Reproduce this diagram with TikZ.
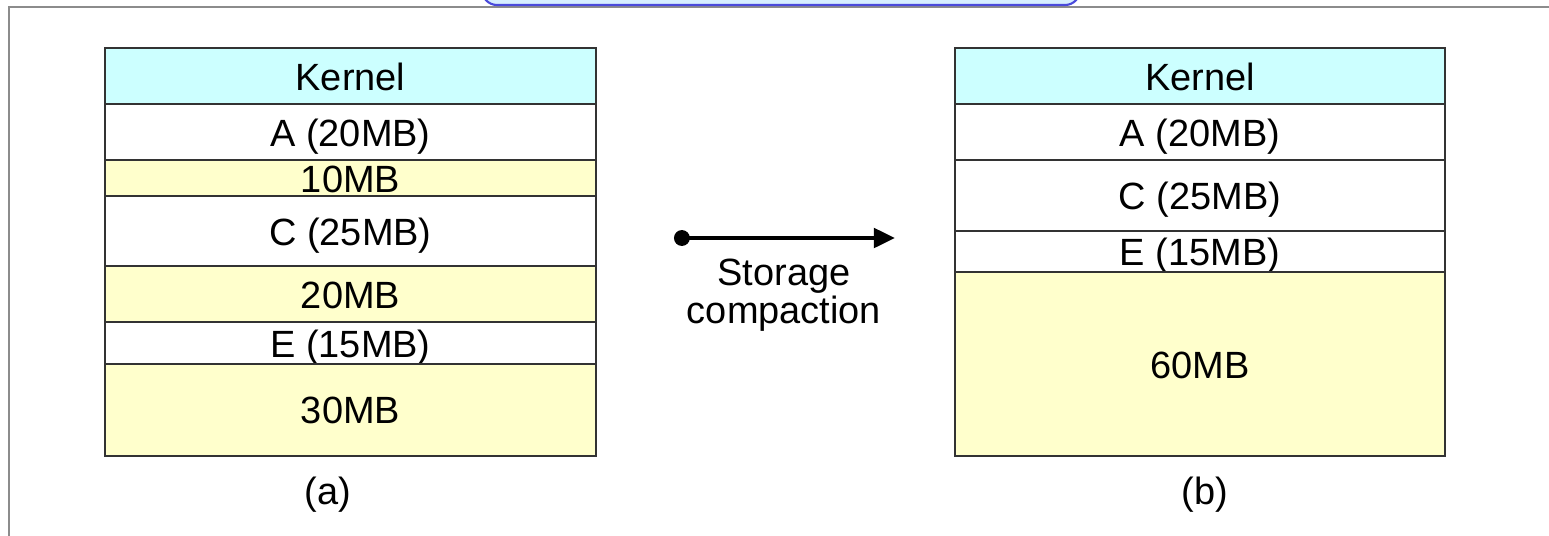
\documentclass[tikz,border=0pt]{standalone}
\usepackage{fontspec}
\setmainfont{Liberation Sans}
\usetikzlibrary{positioning,arrows.meta}

\definecolor{kernelcyan}{HTML}{CCFFFF}
\definecolor{holeyellow}{HTML}{FFFFCC}
\definecolor{titleblue}{HTML}{4A4ADB}
\definecolor{titlefill}{HTML}{D6EEFF}
\definecolor{framegray}{HTML}{8C8C8C}

\tikzset{
  cell/.style={draw=black!80, line width=1.1pt, fill=white, minimum width=9.82cm,
    inner sep=0pt, outer sep=0pt, text height=18.2pt, text depth=2.2pt,
    font=\fontsize{21.6}{21.6}\selectfont},
  kernelcell/.style={cell, fill=kernelcyan},
  holecell/.style={cell, fill=holeyellow},
  caption/.style={font=\fontsize{21.6}{21.6}\selectfont, align=center},
}

\begin{document}
\begin{tikzpicture}[x=0.02cm, y=-0.02cm, >=Triangle]
  % --- Storage compaction: memory map before (a) and after (b) ---
  \def\xa{350.5}\def\xb{1200}
  \def\ytop{48}

  % Page size and border of the slide
  \useasboundingbox (0,0) rectangle (1549,535);
  \clip (0,0) rectangle (1549,535);
  \draw[framegray, line width=1.2pt] (9,7) rectangle (1600,600);
  \draw[titleblue, fill=titlefill, line width=1.2pt, rounded corners=0.3cm]
    (482,-60) rectangle (1080,5);

  % (a) memory with holes
  \node[kernelcell, anchor=north, minimum height=1.12cm] (kerA) at (\xa,\ytop) {Kernel};
  \node[cell, minimum height=1.12cm, below=0pt of kerA] (procA) {A (20MB)};
  \node[holecell, minimum height=0.72cm, below=0pt of procA] (holeA) {10MB};
  \node[cell, minimum height=1.40cm, below=0pt of holeA] (procC) {C (25MB)};
  \node[holecell, minimum height=1.12cm, below=0pt of procC] (holeB) {20MB};
  \node[cell, minimum height=0.84cm, below=0pt of holeB] (procE) {E (15MB)};
  \node[holecell, minimum height=1.84cm, below=0pt of procE] (holeC) {30MB};

  % (b) memory after compaction
  \node[kernelcell, anchor=north, minimum height=1.12cm] (kerB) at (\xb,\ytop) {Kernel};
  \node[cell, minimum height=1.12cm, below=0pt of kerB] (newA) {A (20MB)};
  \node[cell, minimum height=1.42cm, below=0pt of newA] (newC) {C (25MB)};
  \node[cell, minimum height=0.82cm, below=0pt of newC] (newE) {E (15MB)};
  \node[holecell, minimum height=3.68cm, below=0pt of newE] (newHole) {60MB};

  % Captions
  \node[caption] (capA) at (328,495) {(a)};
  \node[caption] (capB) at (1205,495) {(b)};

  % Arrow between the two maps
  \coordinate (cstart) at (674,238);
  \coordinate (cend) at (895,238);
  \draw[line width=2.3pt, {Circle[length=9pt]}-{Triangle[length=12pt, width=11pt]}]
    (cstart) -- (cend);
  \node[caption] (compLbl) at (784,295) {Storage\\compaction};
\end{tikzpicture}
\end{document}
